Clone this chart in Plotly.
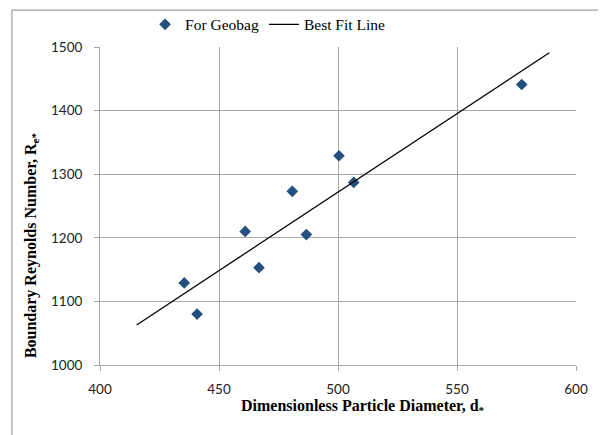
import plotly.graph_objects as go

# Data
geobag_x = [435.4, 440.8, 461.0, 466.8, 480.8, 486.7, 500.4, 506.6, 577.2]
geobag_y = [1129, 1080, 1210, 1153, 1273, 1205, 1329, 1287, 1441]
fit_x = [415.4, 588.8]
fit_y = [1063, 1491]

x_ticks = [400, 450, 500, 550, 600]
y_ticks = [1000, 1100, 1200, 1300, 1400, 1500]

serif = "Liberation Serif"
sans = "Lato"

fig = go.Figure()
fig.add_trace(go.Scatter(
    x=geobag_x, y=geobag_y, mode="markers", name="For Geobag",
    marker=dict(symbol="diamond", size=9, color="#24507F"),
))
fig.add_trace(go.Scatter(
    x=fit_x, y=fit_y, mode="lines", name="Best Fit Line",
    line=dict(color="black", width=1.3),
))

axis_common = dict(
    showgrid=True, gridcolor="#A6A6A6", gridwidth=1,
    showline=True, linecolor="#A6A6A6", linewidth=1,
    ticks="outside", ticklen=5, tickcolor="#A6A6A6",
    tickfont=dict(family=sans, size=13.5, color="#222"),
    zeroline=False,
)

fig.update_layout(
    width=598, height=427,
    margin=dict(l=92, r=30, t=39, b=70, autoexpand=False),
    paper_bgcolor="white", plot_bgcolor="white",
    xaxis=dict(range=[400, 600], tickvals=x_ticks, ticklabelstandoff=7, **axis_common),
    yaxis=dict(range=[1000, 1500], tickvals=y_ticks, ticklabelstandoff=9, **axis_common),
    legend=dict(
        orientation="h", x=0.352, xanchor="center", y=1.07, yanchor="middle",
        font=dict(family=serif, size=15.5, color="black"),
        bgcolor="rgba(0,0,0,0)", itemwidth=30,
    ),
    showlegend=True,
    annotations=[
        dict(text="<b>Dimensionless Particle Diameter, d<sub>*</sub></b>",
             xref="paper", yref="paper", x=0.553, y=-0.132,
             showarrow=False, xanchor="center", yanchor="middle",
             font=dict(family=serif, size=16, color="black")),
        dict(text="<b>Boundary Reynolds Number, R<sub>e*</sub></b>",
             xref="paper", yref="paper", x=-0.145, y=0.377,
             showarrow=False, xanchor="center", yanchor="middle", textangle=-90,
             font=dict(family=serif, size=16, color="black")),
    ],
    shapes=[
        dict(type="line", xref="paper", yref="paper",
             x0=-0.185, y0=-0.3, x1=-0.185, y1=1.116,
             line=dict(color="#A0A0A0", width=1.2)),
        dict(type="line", xref="paper", yref="paper",
             x0=-0.185, y0=1.116, x1=1.1, y1=1.116,
             line=dict(color="#A0A0A0", width=1.2)),
    ],
)

fig.write_html("out.html")
